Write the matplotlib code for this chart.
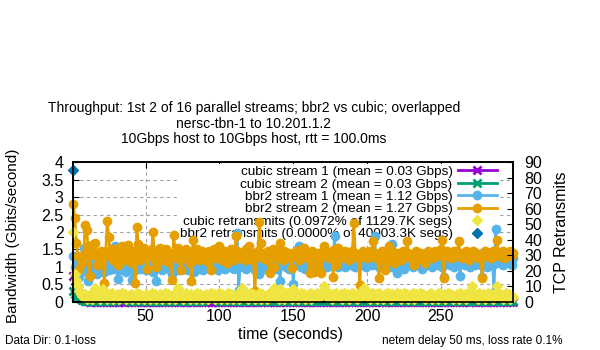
import numpy as np
import matplotlib
matplotlib.use("Agg")
import matplotlib.pyplot as plt
from matplotlib.ticker import FormatStrFormatter

plt.rcParams['font.family'] = ['Liberation Sans', 'DejaVu Sans']

# bandwidth per 1-second sample (Gbits/second)
bbr2_s1 = [
    1.30, 1.00, 0.85, 1.20, 0.70, 1.10, 0.95, 1.55, 1.00, 0.85,
    0.60, 1.10, 1.25, 0.90, 1.05, 1.30, 0.80, 1.15, 0.95, 1.20,
    1.00, 0.85, 1.25, 1.10, 0.90, 1.30, 1.05, 0.95, 1.60, 1.20,
    0.65, 1.10, 0.90, 1.30, 1.00, 1.15, 0.85, 1.25, 0.95, 1.05,
    0.62, 1.20, 0.90, 1.10, 1.30, 0.95, 1.15, 1.00, 1.25, 0.90,
    1.10, 0.95, 1.30, 1.05, 0.85, 1.20, 0.60, 1.10, 1.00, 1.25,
    0.90, 1.15, 1.35, 1.00, 1.20, 0.95, 1.10, 0.80, 1.25, 1.05,
    1.30, 0.90, 1.15, 1.00, 1.20, 0.95, 1.35, 1.05, 0.90, 1.15,
    1.00, 1.25, 0.85, 1.10, 1.30, 0.95, 1.20, 1.05, 0.90, 1.15,
    1.25, 1.00, 1.10, 1.10, 0.95, 1.30, 1.05, 1.20, 0.90, 1.15,
    1.00, 1.25, 1.10, 0.95, 1.20, 1.05, 1.30, 1.00, 1.15, 0.95,
    1.20, 1.98, 0.35, 1.10, 1.25, 1.00, 1.15, 0.95, 1.30, 1.05,
    1.15, 1.00, 1.25, 0.90, 1.10, 1.30, 0.80, 1.05, 1.20, 0.95,
    1.15, 1.00, 1.25, 1.10, 0.90, 1.20, 1.05, 1.30, 0.95, 1.15,
    0.60, 1.20, 1.05, 1.30, 1.00, 1.15, 0.95, 1.25, 1.10, 0.52,
    1.20, 1.05, 1.30, 1.60, 1.00, 1.15, 1.25, 0.95, 1.10, 1.30,
    1.00, 1.20, 1.10, 0.95, 1.25, 1.05, 1.15, 1.35, 1.00, 1.20,
    1.10, 1.30, 1.00, 1.15, 1.25, 1.05, 1.20, 1.88, 1.10, 1.00,
    1.25, 1.05, 1.15, 1.30, 1.00, 1.20, 1.10, 1.25, 1.05, 1.15,
    1.30, 1.00, 1.20, 1.10, 1.25, 1.05, 1.15, 1.30, 1.00, 1.20,
    1.10, 1.25, 1.05, 1.40, 1.88, 1.15, 1.30, 1.00, 1.20, 1.10,
    1.25, 1.05, 1.15, 1.30, 1.20, 1.00, 1.65, 1.10, 1.25, 0.82,
    1.15, 1.05, 1.25, 1.10, 0.95, 1.20, 1.30, 1.05, 1.15, 1.25,
    1.00, 1.20, 1.10, 1.30, 1.05, 1.15, 0.95, 1.25, 1.10, 1.20,
    1.05, 1.30, 1.15, 1.00, 1.25, 1.10, 1.20, 1.05, 1.30, 1.15,
    1.00, 0.70, 1.25, 1.10, 1.20, 1.05, 1.30, 1.15, 1.00, 1.25,
    1.10, 1.20, 0.75, 1.30, 1.15, 1.05, 1.25, 1.10, 1.20, 1.00,
    1.30, 1.15, 1.05, 1.25, 1.10, 1.20, 1.05, 0.70, 1.30, 1.15,
    1.00, 1.25, 1.10, 1.20, 1.05, 0.28, 2.10, 1.15, 1.25, 1.10,
    1.20, 1.05, 1.30, 1.15, 1.25, 1.10, 1.20, 1.05, 1.25,
]
bbr2_s2 = [
    2.80, 2.40, 1.70, 1.30, 0.95, 1.25, 1.10, 1.35, 2.20, 2.05,
    1.60, 0.75, 1.55, 1.62, 1.35, 1.70, 1.05, 1.40, 1.25, 1.45,
    1.30, 0.55, 1.45, 2.33, 1.85, 1.30, 1.50, 1.20, 1.40, 1.50,
    1.05, 1.35, 1.55, 1.60, 1.20, 1.55, 1.45, 1.62, 1.35, 1.30,
    1.10, 1.45, 0.55, 2.15, 1.65, 1.20, 1.40, 1.30, 1.55, 1.25,
    0.95, 1.40, 1.30, 1.50, 2.00, 1.20, 1.00, 1.40, 1.30, 1.55,
    1.20, 1.45, 1.35, 1.50, 1.15, 1.40, 1.25, 0.62, 1.92, 1.40,
    1.30, 1.55, 1.20, 0.90, 1.45, 1.35, 1.50, 1.25, 1.40, 1.10,
    0.60, 1.78, 1.40, 1.30, 1.50, 1.20, 1.35, 1.45, 1.25, 1.40,
    1.30, 1.15, 1.45, 0.90, 1.35, 1.50, 1.25, 1.40, 1.30, 1.60,
    1.35, 1.20, 1.45, 1.30, 1.10, 1.40, 1.25, 1.50, 1.35, 1.20,
    1.88, 1.45, 1.30, 1.25, 1.40, 1.35, 1.20, 1.50, 1.49, 1.59,
    1.30, 1.40, 1.20, 0.30, 1.35, 1.45, 2.30, 1.70, 1.25, 1.40,
    1.30, 1.20, 1.45, 0.82, 1.35, 1.50, 1.00, 1.40, 1.30, 1.25,
    1.68, 1.35, 1.20, 1.45, 1.30, 1.40, 1.40, 1.25, 0.96, 1.35,
    1.30, 1.45, 1.40, 1.20, 1.35, 1.50, 1.55, 1.30, 1.25, 1.40,
    0.82, 1.35, 1.45, 0.86, 1.30, 1.40, 1.00, 1.35, 0.82, 1.45,
    1.59, 1.30, 1.40, 1.25, 1.35, 1.45, 0.72, 1.50, 1.06, 1.54,
    1.35, 1.25, 1.40, 1.30, 1.45, 1.35, 1.30, 1.20, 1.40, 1.45,
    2.27, 1.40, 1.30, 1.25, 0.48, 1.35, 1.45, 1.30, 1.40, 1.25,
    1.35, 1.45, 1.30, 1.73, 1.40, 1.25, 1.30, 0.67, 1.35, 1.45,
    1.20, 0.90, 1.15, 1.35, 1.60, 1.30, 1.45, 1.10, 1.35, 1.25,
    1.40, 1.30, 1.20, 1.45, 1.35, 1.30, 1.75, 1.40, 1.25, 1.35,
    1.30, 1.06, 1.45, 1.35, 1.25, 1.40, 1.30, 1.20, 1.10, 1.35,
    1.45, 1.30, 1.40, 1.25, 1.35, 1.45, 1.30, 1.40, 1.35, 1.50,
    1.78, 0.67, 1.35, 1.45, 1.30, 1.40, 1.25, 1.35, 1.45, 1.30,
    1.40, 1.74, 1.35, 1.25, 1.40, 1.30, 1.45, 1.35, 1.20, 1.40,
    1.30, 1.45, 1.35, 1.40, 1.25, 1.35, 1.30, 0.67, 1.40, 1.45,
    1.30, 1.35, 1.40, 1.25, 1.45, 1.30, 1.35, 1.78, 1.40, 1.30,
    1.35, 1.45, 1.25, 1.40, 1.35, 1.30, 1.45, 1.35, 1.40,
]
cubic_s1 = [
    .75, .60, .45, .34, .25, .15, .08, .05, .03, .02,
    .01, 0, .02, 0, .01, 0, 0, .03, 0, .01,
    0, .02, 0, 0, .01, 0, .02, 0, 0, .01,
    0, 0, .02, .01, 0, 0, .03, 0, .01, 0,
    .02, 0, 0, .01, 0, .02, 0, 0, .01, 0,
    0, .02, 0, .01, 0, 0, .03, 0, 0, .01,
    0, .01, 0, .02, 0, 0, .01, 0, .02, 0,
    .01, 0, 0, .02, 0, .01, 0, 0, .03, 0,
    0, .01, 0, .02, 0, 0, .01, 0, .02, 0,
    .01, 0, .02, 0, 0, .01, 0, .03, 0, 0,
    .02, 0, .01, 0, 0, .02, 0, .01, 0, 0,
    .01, 0, 0, .02, 0, .01, 0, 0, .02, 0,
    0, .01, 0, .03, 0, 0, .01, 0, .02, 0,
    .01, 0, 0, .02, 0, .01, 0, 0, .01, 0,
    0, .02, 0, .18, 0, 0, .01, 0, .02, 0,
    .01, 0, .02, 0, 0, .01, 0, .02, 0, 0,
    0, .01, 0, .02, 0, 0, .03, 0, .01, 0,
    .02, 0, 0, .01, 0, .02, 0, 0, .01, 0,
    0, .01, 0, .02, 0, 0, .01, 0, .03, 0,
    .01, 0, .02, 0, 0, .01, 0, .02, 0, 0,
    0, .02, 0, .01, 0, 0, .02, 0, .01, 0,
    .01, 0, 0, .02, 0, .01, 0, 0, .03, 0,
    0, .01, 0, .02, 0, 0, .01, 0, .02, 0,
    .02, 0, .01, 0, 0, .02, 0, .01, 0, 0,
    .01, 0, 0, .02, 0, .01, 0, 0, .02, 0,
    0, .01, 0, .02, 0, 0, .01, 0, .03, 0,
    .01, 0, .02, 0, 0, .01, 0, .02, 0, 0,
    .18, .02, 0, .01, 0, 0, .02, 0, .01, 0,
    0, .01, 0, .02, 0, 0, .01, 0, .02, 0,
    .01, 0, .02, 0, 0, .01, 0, .02, 0,
]
cubic_s2 = [
    .30, .22, .15, .20, .10, .08, .05, .04, .03, .03,
    .02, .03, .01, .02, .04, .02, .03, .01, .02, .03,
    .02, .04, .03, .02, .01, .03, .02, .04, .03, .05,
    .08, .10, .12, .09, .11, .08, .06, .04, .02, .03,
    .02, .04, .03, .01, .03, .02, .04, .03, .02, .05,
    .03, .02, .04, .01, .03, .02, .05, .03, .02, .04,
    .02, .03, .01, .04, .02, .03, .02, .05, .03, .02,
    .04, .02, .03, .01, .03, .02, .04, .03, .02, .03,
    .02, .04, .03, .02, .01, .03, .02, .04, .03, .05,
    .07, .19, .10, .12, .08, .09, .11, .06, .04, .03,
    .02, .03, .01, .04, .02, .03, .05, .20, .03, .02,
    .04, .02, .03, .01, .03, .02, .04, .03, .02, .03,
    .02, .04, .03, .02, .05, .03, .02, .04, .03, .02,
    .03, .02, .04, .01, .03, .02, .05, .03, .02, .04,
    .02, .03, .01, .04, .02, .03, .02, .05, .03, .02,
    .04, .02, .03, .01, .03, .02, .04, .03, .02, .03,
    .02, .04, .03, .02, .01, .03, .02, .04, .03, .05,
    .03, .02, .04, .01, .03, .02, .05, .03, .02, .04,
    .02, .03, .01, .04, .02, .03, .02, .06, .15, .12,
    .04, .02, .03, .01, .03, .02, .04, .03, .02, .03,
    .02, .04, .03, .02, .05, .03, .02, .04, .03, .02,
    .03, .02, .04, .01, .03, .02, .05, .03, .02, .04,
    .02, .03, .01, .04, .02, .03, .02, .05, .03, .02,
    .04, .02, .03, .01, .03, .02, .04, .03, .02, .03,
    .02, .04, .03, .02, .01, .03, .02, .04, .03, .05,
    .03, .02, .04, .01, .03, .02, .05, .03, .02, .04,
    .02, .03, .01, .04, .02, .03, .02, .05, .03, .14,
    .03, .02, .04, .01, .03, .02, .05, .03, .02, .04,
    .02, .03, .01, .04, .02, .03, .02, .05, .03, .02,
    .04, .02, .03, .01, .03, .02, .04, .03, .02,
]
# retransmits per sample (right axis)
cubic_retx = [
    45, 18, 14, 10, 7, 5, 4, 3, 5, 2,
    4, 3, 5, 2, 6, 9, 3, 4, 2, 5,
    8, 3, 4, 2, 5, 3, 6, 2, 4, 3,
    5, 2, 4, 6, 3, 5, 2, 4, 3, 5,
    2, 4, 3, 6, 2, 5, 3, 4, 2, 5,
    3, 4, 2, 6, 3, 5, 2, 4, 3, 5,
    2, 4, 6, 3, 5, 2, 4, 3, 5, 2,
    6, 9, 3, 5, 2, 4, 6, 3, 4, 2,
    5, 3, 4, 2, 6, 3, 5, 2, 4, 3,
    5, 2, 4, 6, 3, 5, 2, 4, 3, 6,
    2, 5, 3, 4, 2, 6, 3, 5, 2, 4,
    3, 5, 2, 6, 9, 4, 3, 5, 2, 4,
    6, 3, 5, 2, 4, 3, 6, 2, 5, 3,
    4, 2, 5, 3, 6, 4, 9, 3, 5, 2,
    8, 3, 5, 2, 4, 6, 3, 5, 2, 8,
    3, 5, 2, 4, 6, 3, 5, 2, 4, 3,
    6, 2, 5, 3, 4, 6, 3, 5, 4, 7,
    10, 5, 3, 6, 4, 2, 5, 3, 6, 4,
    3, 5, 2, 6, 4, 3, 5, 2, 4, 6,
    3, 5, 2, 4, 6, 3, 5, 9, 4, 3,
    5, 2, 6, 3, 4, 5, 2, 6, 3, 4,
    2, 5, 3, 6, 4, 2, 5, 3, 4, 6,
    3, 5, 2, 4, 6, 3, 5, 2, 4, 3,
    6, 2, 5, 3, 4, 6, 3, 5, 2, 4,
    3, 5, 6, 2, 4, 3, 5, 2, 6, 4,
    3, 5, 2, 4, 6, 3, 5, 2, 4, 3,
    5, 2, 6, 3, 4, 5, 2, 6, 3, 4,
    10, 4, 3, 5, 2, 6, 4, 3, 5, 2,
    4, 6, 3, 5, 2, 4, 6, 10, 4, 3,
    5, 2, 4, 6, 3, 5, 2, 4, 3,
]
bbr2_retx_t = [1]
bbr2_retx = [85]

t = np.arange(1, len(bbr2_s2) + 1)

labels = [
    "cubic stream 1 (mean = 0.03 Gbps)",
    "cubic stream 2 (mean = 0.03 Gbps)",
    "bbr2 stream 1 (mean = 1.12 Gbps)",
    "bbr2 stream 2 (mean = 1.27 Gbps)",
    "cubic retransmits (0.0972% of 1129.7K segs)",
    "bbr2 retransmits (0.0000% of 40003.3K segs)",
]
title_lines = [
    "Throughput: 1st 2 of 16 parallel streams; bbr2 vs cubic; overlapped",
    "nersc-tbn-1 to 10.201.1.2",
    "10Gbps host to 10Gbps host, rtt = 100.0ms",
]

fig = plt.figure(figsize=(6, 3.5), dpi=100)
ax = fig.add_axes([73.3 / 600, 48.2 / 350, 440 / 600, 139.5 / 350])
ax2 = ax.twinx()

h1, = ax.plot(t, cubic_s1, color='#9400D3', lw=2, marker='x', ms=6, mew=2, clip_on=False, label=labels[0])
h2, = ax.plot(t, cubic_s2, color='#009E73', lw=2, marker='x', ms=6, mew=2, clip_on=False, label=labels[1])
h3, = ax.plot(t, bbr2_s1, color='#56B4E9', lw=2, marker='o', ms=6, clip_on=False, label=labels[2])
h4, = ax.plot(t, bbr2_s2, color='#E69F00', lw=2, marker='o', ms=6, clip_on=False, label=labels[3])
h5, = ax2.plot(t, cubic_retx, ls='none', color='#F0E442', marker='D', ms=5, clip_on=False, label=labels[4])
h6, = ax2.plot(bbr2_retx_t, bbr2_retx, ls='none', color='#0072B2', marker='D', ms=5, clip_on=False, label=labels[5])

ax.set_xlim(1, 299)
ax.set_ylim(0, 4)
ax2.set_ylim(0, 90)
ax.set_xticks([50, 100, 150, 200, 250])
ax.set_yticks(np.arange(0, 4.01, 0.5))
ax2.set_yticks(np.arange(0, 91, 10))
ax.yaxis.set_major_formatter(FormatStrFormatter('%g'))

ax.set_axisbelow(True)
ax.grid(True, color='#a0a0a0', lw=0.8, ls=(0, (3, 3)))
ax.tick_params(direction='in', top=True, labelsize=11.5, length=4, pad=5)
ax.tick_params(axis='y', pad=7)
ax2.tick_params(direction='in', labelsize=11.5, length=4, pad=8)
for a in (ax, ax2):
    for s in a.spines.values():
        s.set_linewidth(1.2)

leg = ax.legend(handles=[h1, h2, h3, h4, h5, h6], loc='upper right',
                bbox_to_anchor=(0.9675, 0.99), fontsize=9.7,
                markerfirst=False, handlelength=2.9, handletextpad=0.4,
                labelspacing=0.0, borderpad=0.15, borderaxespad=0.0,
                frameon=True, fancybox=False, framealpha=1,
                facecolor='white', edgecolor='none')
leg.set_zorder(1)

for i, line in enumerate(title_lines):
    fig.text(254 / 600, 1 - (108 + 15.5 * i) / 350, line, ha='center', va='center', fontsize=10)
fig.text(291 / 600, 1 - 334 / 350, "time (seconds)", ha='center', va='center', fontsize=11.5)
fig.text(13 / 600, 1 - 236 / 350, "Bandwidth (Gbits/second)", ha='center', va='center',
         rotation=90, fontsize=11)
fig.text(561 / 600, 1 - 232 / 350, "TCP Retransmits", ha='center', va='center',
         rotation=90, fontsize=11.5)
fig.text(5 / 600, 1 - 341 / 350, "Data Dir: 0.1-loss", ha='left', va='center', fontsize=8.5)
fig.text(563 / 600, 1 - 341 / 350, "netem delay 50 ms, loss rate 0.1%", ha='right', va='center', fontsize=8.5)

fig.savefig("out.png", dpi=100)
